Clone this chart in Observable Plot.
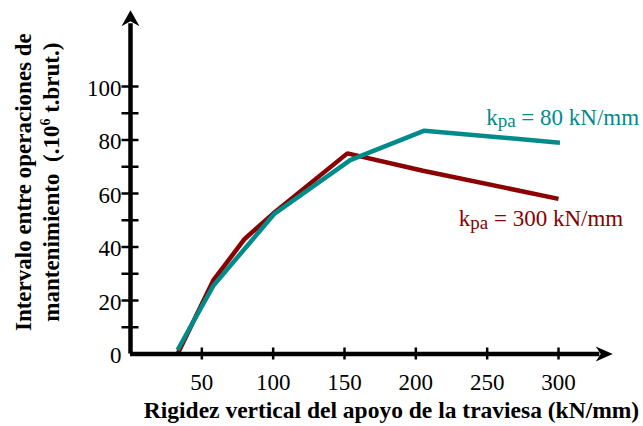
<!DOCTYPE html>
<html><head><meta charset="utf-8">
<script src="https://cdn.jsdelivr.net/npm/d3@7"></script>
<script src="https://cdn.jsdelivr.net/npm/@observablehq/plot@0.6"></script>
<style>body{margin:0;background:#fff}</style>
</head><body><div id="chart"></div>
<script>
// Series: k_pa = 300 kN/mm
const stiffness300 = [33, 58, 80, 100, 152, 205, 300];
const interval300  = [0, 27.5, 43, 52.5, 75, 68.5, 58];
// Series: k_pa = 80 kN/mm
const stiffness80 = [33, 58, 101, 154, 206, 301];
const interval80  = [1.5, 25.5, 52.5, 72.5, 83.5, 79];

const xTicks = [50, 100, 150, 200, 250, 300];
const yTicks = [0, 20, 40, 60, 80, 100];
const yMinorTicks = [10, 20, 30, 40, 50, 60, 70, 80, 90, 100];
const xMax = 338, yMax = 128.5;

const labelMain = ["k", "k"];
const labelSub = ["pa", "pa"];
const labelRest = [" = 80 kN/mm", " = 300 kN/mm"];
const labelX = [249.3, 230.1];
const labelY = [85.7, 47.7];

const xTitle = "Rigidez vertical del apoyo de la traviesa (kN/mm)";
const yTitle1 = "Intervalo entre operaciones de";
const yTitle2Main = "mantenimiento\u00a0 (.10";
const yTitle2Sup = "6";
const yTitle2Rest = " t.brut.)";

const RED = "#8B0000", TEAL = "#008B8B";
const colors = [TEAL, RED];

const d300 = stiffness300.map((x, i) => ({x, y: interval300[i]}));
const d80 = stiffness80.map((x, i) => ({x, y: interval80[i]}));
const labels = labelMain.map((m, i) => ({m, s: labelSub[i], r: labelRest[i], x: labelX[i], y: labelY[i], c: colors[i]}));

const arrowRight = {draw(ctx) { ctx.moveTo(0, 0); ctx.lineTo(-17, -7.5); ctx.lineTo(-12, 0); ctx.lineTo(-17, 7.5); ctx.closePath(); }};
const arrowUp = {draw(ctx) { ctx.moveTo(0, 0); ctx.lineTo(-9, 16); ctx.lineTo(0, 11); ctx.lineTo(9, 16); ctx.closePath(); }};

const font = "'Liberation Serif', 'Times New Roman', Times, serif";

const chart = Plot.plot({
  width: 643, height: 426,
  marginLeft: 130, marginRight: 643 - 130 - xMax * 1.4267, marginTop: 353.5 - yMax * 2.675, marginBottom: 72.5,
  x: {domain: [0, xMax]},
  y: {domain: [0, yMax]},
  style: {fontFamily: font, background: "#fff", color: "#000", overflow: "visible"},
  marks: [
    Plot.line(d300, {x: "x", y: "y", stroke: RED, strokeWidth: 4.5, strokeLinecap: "butt", strokeLinejoin: "miter"}),
    Plot.line(d80, {x: "x", y: "y", stroke: TEAL, strokeWidth: 4.5, strokeLinecap: "butt", strokeLinejoin: "miter"}),
    Plot.ruleY([0], {x1: 0, x2: xMax - 9, strokeWidth: 4.5, stroke: "#000"}),
    Plot.ruleX([0], {y1: 0, y2: yMax - 5, strokeWidth: 4.5, stroke: "#000"}),
    Plot.dot([{x: xMax, y: 0}], {x: "x", y: "y", symbol: arrowRight, fill: "#000", stroke: null}),
    Plot.dot([{x: 0, y: yMax}], {x: "x", y: "y", symbol: arrowUp, fill: "#000", stroke: null}),
    Plot.axisY({ticks: yMinorTicks, tickSize: 17, dx: 8.5, tickFormat: () => "", strokeWidth: 2.5, label: null}),
    Plot.axisY({ticks: yTicks, tickSize: 0, tickPadding: 9, fontSize: 23, dy: 2, label: null}),
    Plot.axisX({ticks: xTicks, tickSize: 12, dy: -6, tickFormat: () => "", strokeWidth: 2.5, label: null}),
    Plot.axisX({ticks: xTicks, tickSize: 0, tickPadding: 20, fontSize: 23, label: null}),
    Plot.text(labels, {x: "x", y: "y", text: d => d.m + d.s + d.r, fill: "c", fontSize: 23, textAnchor: "start", lineAnchor: "bottom"}),
    Plot.text([xTitle], {frameAnchor: "bottom-left", text: d => d, textAnchor: "start", dx: 13.3, dy: 63.5, fontSize: 23.5, fontWeight: "bold"}),
    Plot.text([yTitle1], {frameAnchor: "left", text: d => d, rotate: -90, textAnchor: "middle", dx: -106.4, fontSize: 23, fontWeight: "bold"}),
    Plot.text([yTitle2Main + yTitle2Sup + yTitle2Rest], {frameAnchor: "left", text: d => d, rotate: -90, textAnchor: "middle", dx: -78.9, fontSize: 23, fontWeight: "bold"})
  ]
});

// Rich text: subscripts and superscript
d3.select(chart).selectAll("text").each(function () {
  const t = this.textContent;
  const sel = d3.select(this);
  labels.forEach(l => {
    if (t === l.m + l.s + l.r) {
      sel.text(null);
      sel.append("tspan").text(l.m);
      sel.append("tspan").attr("font-size", 19).attr("dy", 2.5).text(l.s);
      sel.append("tspan").attr("dy", -2.5).text(l.r);
    }
  });
  if (t === yTitle2Main + yTitle2Sup + yTitle2Rest) {
    sel.text(null);
    sel.append("tspan").text(yTitle2Main);
    sel.append("tspan").attr("font-size", 14).attr("dy", -9).text(yTitle2Sup);
    sel.append("tspan").attr("dy", 9).text(yTitle2Rest);
  }
});

document.getElementById("chart").append(chart);
</script>
</body></html>
